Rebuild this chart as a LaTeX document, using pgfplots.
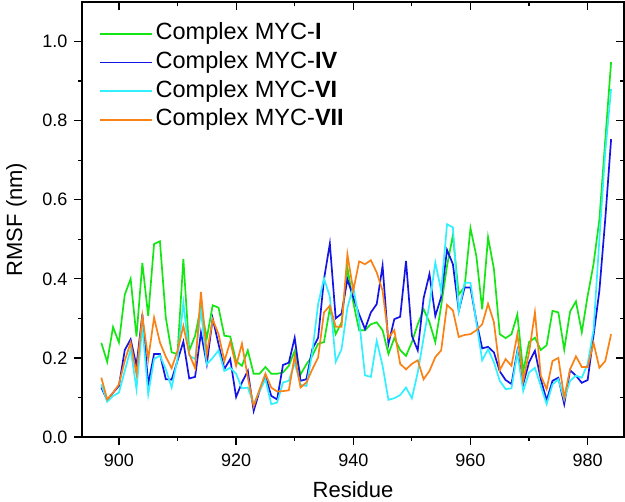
\documentclass[border=0pt]{standalone}
\usepackage{pgfplots}
\pgfplotsset{compat=1.18}
\usepackage{pgfplotstable}
\usepackage{fontspec}
\setmainfont{Liberation Sans}

\definecolor{cI}{RGB}{20,230,20}
\definecolor{cIV}{RGB}{20,20,230}
\definecolor{cVI}{RGB}{50,240,255}
\definecolor{cVII}{RGB}{250,130,20}

% RMSF per residue
\pgfplotstableread{
res  I     IV    VI    VII
897  0.238 0.125 0.133 0.150
898  0.190 0.093 0.089 0.095
899  0.278 0.112 0.104 0.112
900  0.239 0.129 0.112 0.133
901  0.360 0.220 0.167 0.193
902  0.400 0.247 0.222 0.239
903  0.254 0.180 0.121 0.159
904  0.440 0.310 0.281 0.306
905  0.306 0.133 0.108 0.197
906  0.488 0.210 0.197 0.302
907  0.495 0.210 0.206 0.239
908  0.302 0.146 0.171 0.203
909  0.214 0.145 0.125 0.174
910  0.210 0.193 0.197 0.218
911  0.450 0.241 0.340 0.281
912  0.218 0.148 0.206 0.210
913  0.256 0.152 0.197 0.174
914  0.330 0.264 0.320 0.367
915  0.250 0.184 0.184 0.210
916  0.333 0.300 0.200 0.297
917  0.327 0.235 0.219 0.260
918  0.256 0.172 0.167 0.192
919  0.254 0.197 0.175 0.241
920  0.192 0.101 0.160 0.180
921  0.180 0.138 0.123 0.236
922  0.219 0.167 0.125 0.150
923  0.160 0.066 0.083 0.078
924  0.160 0.116 0.116 0.120
925  0.177 0.154 0.146 0.160
926  0.160 0.104 0.083 0.125
927  0.160 0.095 0.087 0.115
928  0.163 0.182 0.138 0.116
929  0.180 0.188 0.142 0.118
930  0.218 0.251 0.188 0.205
931  0.158 0.142 0.132 0.125
932  0.184 0.146 0.129 0.138
933  0.205 0.222 0.214 0.171
934  0.236 0.251 0.336 0.201
935  0.240 0.399 0.401 0.315
936  0.325 0.489 0.355 0.332
937  0.260 0.300 0.190 0.279
938  0.290 0.312 0.222 0.279
939  0.428 0.399 0.327 0.462
940  0.340 0.353 0.380 0.370
941  0.270 0.310 0.294 0.444
942  0.270 0.273 0.156 0.437
943  0.285 0.315 0.152 0.447
944  0.290 0.336 0.243 0.416
945  0.270 0.433 0.180 0.370
946  0.210 0.235 0.094 0.251
947  0.250 0.298 0.098 0.270
948  0.220 0.304 0.106 0.185
949  0.205 0.445 0.125 0.171
950  0.240 0.256 0.098 0.185
951  0.285 0.219 0.163 0.194
952  0.323 0.351 0.250 0.146
953  0.290 0.412 0.336 0.167
954  0.240 0.306 0.441 0.202
955  0.332 0.354 0.370 0.219
956  0.433 0.473 0.538 0.334
957  0.510 0.437 0.530 0.320
958  0.360 0.319 0.318 0.253
959  0.380 0.378 0.390 0.258
960  0.528 0.378 0.390 0.260
961  0.458 0.294 0.290 0.270
962  0.323 0.224 0.194 0.285
963  0.505 0.228 0.222 0.337
964  0.425 0.214 0.189 0.290
965  0.260 0.166 0.142 0.169
966  0.250 0.144 0.121 0.197
967  0.260 0.134 0.123 0.180
968  0.310 0.218 0.214 0.260
969  0.165 0.134 0.116 0.142
970  0.240 0.189 0.163 0.214
971  0.251 0.218 0.175 0.315
972  0.220 0.146 0.129 0.155
973  0.232 0.093 0.083 0.121
974  0.319 0.142 0.133 0.192
975  0.315 0.150 0.146 0.200
976  0.221 0.083 0.095 0.099
977  0.317 0.169 0.142 0.171
978  0.343 0.155 0.155 0.204
979  0.265 0.137 0.150 0.177
980  0.357 0.144 0.185 0.177
981  0.437 0.256 0.270 0.238
982  0.550 0.370 0.500 0.175
983  0.750 0.550 0.720 0.192
984  0.948 0.753 0.880 0.260
}\rmsf

\pgfplotsset{
  base/.style={
    scale only axis, width=542pt, height=435pt,
    xmin=893.7, xmax=986.2, ymin=0, ymax=1.1,
    xtick={900,920,...,980}, ytick={0,0.2,...,1.0},
    minor x tick num=1, minor y tick num=1,
    major tick length=8pt, minor tick length=4pt,
    axis line style={line width=1.4pt},
    every tick/.style={black, line width=1.2pt},
  }
}

\begin{document}
\begin{tikzpicture}
\useasboundingbox (-82pt,-65pt) rectangle (543pt,437pt);
\begin{axis}[base,
  tick align=outside, xtick pos=left, ytick pos=left,
  tick label style={font=\fontsize{18}{21}\selectfont,
    /pgf/number format/assume math mode=true},
  x tick label style={/pgf/number format/1000 sep={}, yshift=-5pt},
  y tick label style={/pgf/number format/.cd, fixed, fixed zerofill, precision=1,
    /tikz/xshift=-3pt},
  label style={font=\fontsize{22}{26}\selectfont},
  xlabel={Residue}, ylabel={RMSF (nm)},
  xlabel style={at={(axis description cs:0.5,-0.121)}, anchor=center, inner sep=0pt},
  ylabel style={at={(axis description cs:-0.121,0.5)}, anchor=center},
  legend cell align=left,
  legend image code/.code={\draw[#1] (0pt,0pt) -- (52pt,0pt);},
  legend style={at={(axis description cs:0.031,0.953)}, anchor=north west,
    draw=none, fill=none, inner sep=0pt, font=\fontsize{23.5}{27}\selectfont,
    row sep=6.2pt, nodes={text height=17pt, text depth=5.5pt, inner ysep=0pt,
    inner xsep=3pt}},
  every axis plot/.append style={line width=1.7pt},
]
\addplot[cI]   table[x=res, y=I]   {\rmsf};
\addplot[cIV]  table[x=res, y=IV]  {\rmsf};
\addplot[cVI]  table[x=res, y=VI]  {\rmsf};
\addplot[cVII] table[x=res, y=VII] {\rmsf};
\legend{Complex MYC-\textbf{I}, Complex MYC-\textbf{IV},
        Complex MYC-\textbf{VI}, Complex MYC-\textbf{VII}}
\end{axis}
\begin{axis}[base,
  tick align=inside, xtick pos=right, ytick pos=right,
  xticklabels={}, yticklabels={},
]
\end{axis}
\end{tikzpicture}
\end{document}
